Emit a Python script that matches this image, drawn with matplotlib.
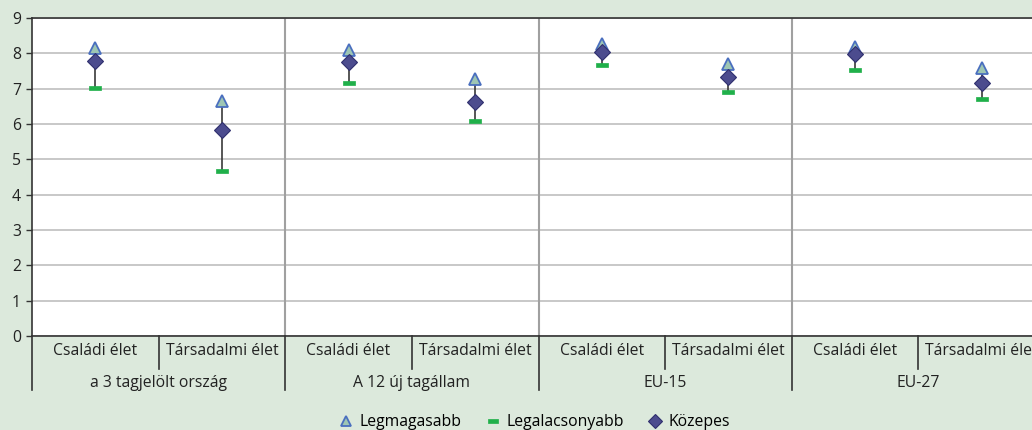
import matplotlib
matplotlib.use("Agg")
import matplotlib.pyplot as plt
from matplotlib.lines import Line2D
from matplotlib.path import Path
import matplotlib.transforms as mtransforms

plt.rcParams['font.family'] = ['Open Sans', 'DejaVu Sans']

groups = ["a 3 tagjelölt ország", "A 12 új tagállam", "EU-15", "EU-27"]
subcats = ["Családi élet", "Társadalmi élet"]
highest = [8.16, 6.65, 8.09, 7.27, 8.26, 7.69, 8.18, 7.59]
lowest = [7.01, 4.66, 7.15, 6.08, 7.66, 6.91, 7.52, 6.70]
median = [7.79, 5.83, 7.75, 6.62, 8.04, 7.34, 7.97, 7.17]
yticks = list(range(0, 10))
legend_labels = ["Legmagasabb", "Legalacsonyabb", "Közepes"]

BG = "#dce9dc"
FS = 11.3
W, H = 1032, 430
fig = plt.figure(figsize=(W / 100, H / 100), dpi=100, facecolor=BG)
left_px, right_px, top_px, bot_px = 32, 1045, 18, 336
ax = fig.add_axes([left_px / W, 1 - bot_px / H, (right_px - left_px) / W, (bot_px - top_px) / H])
ax.set_facecolor("white")

n = len(groups) * len(subcats)
xs = list(range(n))
ax.set_xlim(-0.5, n - 0.5)
ax.set_ylim(0, 9)
ax.set_yticks(yticks)
ax.set_yticklabels([str(t) for t in yticks], fontsize=FS, color="#222222")
ax.tick_params(axis="y", length=4, width=1, color="#333333", pad=4)
ax.set_xticks([])
ax.yaxis.grid(True, color="#c4c4c4", lw=1.3)
ax.set_axisbelow(True)
for s in ["left", "bottom", "top"]:
    ax.spines[s].set_color("#333333")
    ax.spines[s].set_linewidth(1.2)
ax.spines["right"].set_visible(False)

for gi in range(1, len(groups)):
    ax.axvline(gi * len(subcats) - 0.5, color="#a0a0a0", lw=1.5, zorder=1)

# connectors
ax.vlines(xs, lowest, highest, color="#3a3a3a", lw=1.2, zorder=2)

rect = Path([(-1, -0.42), (1, -0.42), (1, 0.42), (-1, 0.42), (-1, -0.42)],
            [Path.MOVETO, Path.LINETO, Path.LINETO, Path.LINETO, Path.CLOSEPOLY])

tri_kw = dict(marker="^", ms=9, mfc="#9ec6b4", mec="#4a6fbf", mew=1.3, ls="none")
low_kw = dict(marker=rect, ms=8.5, mfc="#20b04a", mec="#20b04a", mew=0.5, ls="none")
med_kw = dict(marker="D", ms=8.5, mfc="#4c4c8e", mec="#2f2f6e", mew=0.8, ls="none")
ax.plot(xs, highest, zorder=3, **tri_kw)
ax.plot(xs, lowest, zorder=3, **low_kw)
ax.plot(xs, median, zorder=4, **med_kw)

# category axis
trans = mtransforms.blended_transform_factory(ax.transData, ax.transAxes)
axh = bot_px - top_px
def fy(px_below):
    return -px_below / axh

for i, x in enumerate(xs):
    ax.text(x, fy(15), subcats[i % len(subcats)], transform=trans, ha="center", va="center",
            fontsize=FS, color="#222222")
for gi, g in enumerate(groups):
    cx = gi * len(subcats) + (len(subcats) - 1) / 2
    ax.text(cx, fy(47), g, transform=trans, ha="center", va="center", fontsize=FS, color="#222222")
    mid = gi * len(subcats) + 0.5
    ax.add_line(Line2D([mid, mid], [0, fy(33)], transform=trans, color="#333333", lw=1.2, clip_on=False))
for gi in range(len(groups) + 1):
    b = gi * len(subcats) - 0.5
    ax.add_line(Line2D([b, b], [0, fy(54)], transform=trans, color="#333333", lw=1.2, clip_on=False))

leg_tri = dict(tri_kw, ms=7.5)
leg_low = dict(low_kw, ms=7.5)
leg_med = dict(med_kw, ms=7.5)
handles = [Line2D([], [], **leg_tri), Line2D([], [], **leg_low), Line2D([], [], **leg_med)]
fig.legend(handles, legend_labels, loc="center", bbox_to_anchor=(535 / W, 1 - 422 / H), ncol=3,
           frameon=False, fontsize=FS, handlelength=0.8, columnspacing=1.6, handletextpad=0.45,
           borderpad=0, borderaxespad=0)

fig.savefig("out.png", dpi=100, facecolor=BG)
